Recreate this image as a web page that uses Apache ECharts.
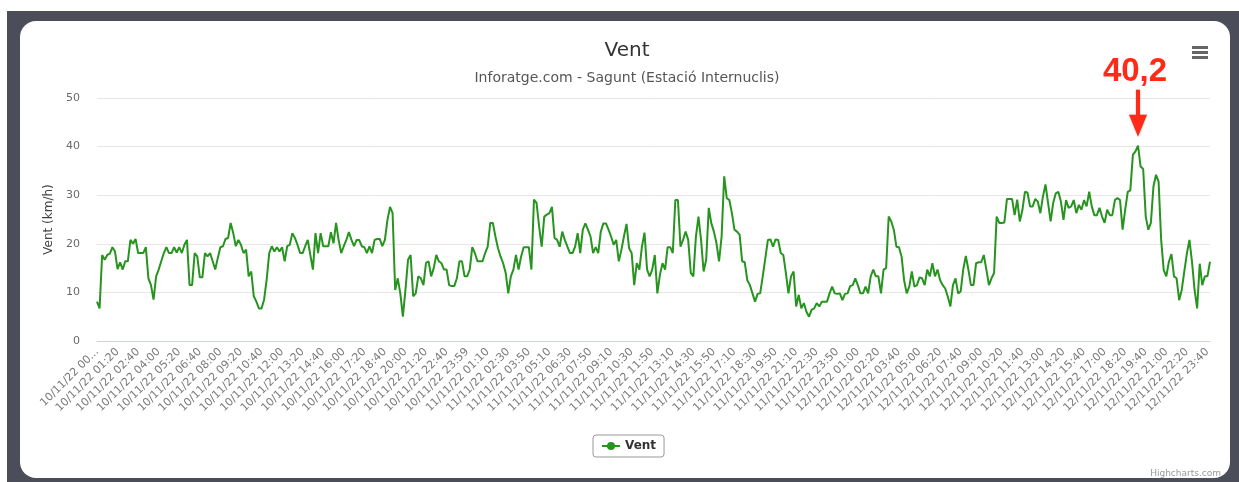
<!DOCTYPE html>
<html>
<head>
<meta charset="utf-8">
<title>Vent</title>
<script src="https://cdn.jsdelivr.net/npm/echarts@6/dist/echarts.min.js"></script>
<style>
  html, body { margin: 0; padding: 0; background: #fff; }
  #frame { position: absolute; left: 7px; top: 11px; width: 1232px; height: 471px; background: #4b4e58; }
  #card { position: absolute; left: 20px; top: 21px; width: 1210px; height: 457px; background: #fff; border-radius: 16px; }
  #chart { position: absolute; left: 0; top: 0; width: 1239px; height: 482px; }
</style>
</head>
<body>
<div id="frame"></div>
<div id="card"></div>
<div id="chart"></div>
<script>
// one reading every 10 minutes, plus a 23:59 reading closing the first two days
const days = ['10/11/22', '11/11/22', '12/11/22']
const dayHasClose = [true, true, false]

const vent10 = [
  8.1, 6.7, 17.7, 16.7, 17.7, 18, 19.3, 18.4, 14.8, 16.2, 14.7, 16.4, 16.4, 20.8, 20, 21, 18.1, 18.1, 18.1, 19.3,
  12.9, 11.5, 8.5, 13.3, 14.7, 16.4, 18.1, 19.3, 18.1, 18.1, 19.3, 18.2, 19.3, 18.1, 19.8, 20.8, 11.5, 11.5, 18.1, 17.4,
  13.1, 13.1, 18.1, 17.4, 18.1, 16.4, 14.7, 17.1, 19.3, 19.5, 21, 21.2, 24.3, 22.2, 19.5, 20.8, 19.8, 18.1, 18.8, 13.3,
  14.3, 9.2, 8.1, 6.7, 6.7, 8.5, 12.6, 18.1, 19.5, 18.4, 19.3, 18.4, 19.3, 16.4, 19.5, 19.8, 22.2, 21.2, 19.8, 18.1,
  18.1, 19.5, 20.8, 17.7, 14.7, 22.2, 18.1, 22.2, 19.5, 19.5, 19.5, 22.4, 20.1, 24.3, 20.8, 18.1, 19.5, 20.8, 22.4, 20.8,
  19.5, 20.8, 20.8, 19.5, 19.3, 18.1, 19.5, 18.1, 20.8, 21, 21, 19.5, 20.8, 24.9, 27.6, 26.3, 10.5, 12.9, 9.8, 5,
  10.5, 16.7, 17.7, 9.2, 9.8, 13.3, 12.9, 11.5, 16.1, 16.4, 13.3, 15, 17.7, 16.4, 16, 14.7, 14.7, 11.5, 11.3, 11.3,
  12.9, 16.4, 16.4, 13.3, 13.3
]
const vent11 = [
  14.7, 19.3, 18.1, 16.4, 16.4, 16.4, 18.1, 19.4, 24.3, 24.3, 21.5, 19.1, 17.4, 16, 14, 9.8, 13.3, 14.7, 17.7, 14.7,
  17.4, 19.3, 19.3, 19.3, 14.7, 29.1, 28.4, 23.6, 19.4, 25.6, 26, 26.3, 27.6, 21.2, 20.8, 19.4, 22.5, 20.8, 19.4, 18.1,
  18.1, 19.4, 22.2, 18.1, 22.9, 24.2, 22.9, 21.5, 18.1, 19.3, 18.1, 22.5, 24.2, 24.2, 22.9, 21.5, 19.8, 20.8, 16.4, 18.7,
  21.5, 24.1, 19.1, 18.1, 11.5, 16, 14.7, 19.4, 22.3, 14.7, 13.3, 14.7, 17.7, 9.8, 13.6, 16, 14.7, 19.3, 19.3, 18.1,
  29, 29, 19.4, 20.8, 22.5, 20.8, 14, 13.3, 21.5, 25.6, 20.8, 14.3, 16.7, 27.4, 24.2, 22.5, 20.1, 16.4, 21.5, 33.9,
  29.4, 29, 26.3, 22.9, 22.5, 21.9, 16.4, 16.2, 12.5, 11.5, 9.8, 8.1, 9.7, 9.8, 13.3, 17, 20.8, 20.9, 19.4, 20.9,
  20.8, 18.1, 17.7, 14, 9.8, 13.3, 14.3, 7.1, 9.5, 6.7, 7.8, 6, 5, 6.4, 6.7, 7.8, 7.1, 8.1, 8.1, 8.1,
  9.8, 11.2, 9.8, 9.7, 9.8
]
const vent12 = [
  8.4, 9.7, 9.8, 11.3, 11.5, 12.9, 11.5, 9.8, 9.8, 11.2, 9.8, 13.3, 14.7, 13.3, 13.3, 9.8, 14.7, 15, 25.6, 24.6,
  22.9, 19.4, 19.3, 17.4, 12.5, 9.8, 11.2, 14.3, 11.2, 11.5, 13.1, 12.9, 11.5, 14.7, 13.3, 16, 13.3, 14.7, 12.5, 11.5,
  10.8, 9.1, 7.1, 11.5, 12.9, 9.8, 10.2, 14.7, 17.5, 14.7, 11.5, 11.5, 16, 16.2, 16.2, 17.7, 14.7, 11.5, 12.9, 14,
  25.6, 24.3, 24.3, 24.4, 29.2, 29.2, 29.2, 25.9, 29.1, 24.6, 26.9, 30.7, 30.5, 27.7, 27.7, 29.2, 28.7, 26.3, 29.7, 32.2,
  28.4, 24.6, 28.4, 30.4, 30.7, 28.7, 24.9, 29, 27.4, 27.7, 29, 26.3, 28, 27, 29, 27.7, 30.7, 27.7, 25.9, 25.9,
  27.4, 25.6, 24.3, 27, 25.9, 25.9, 29, 29.4, 29, 22.9, 27, 30.7, 31, 38.3, 39, 40.2, 35.9, 35.4, 25.6, 22.9,
  24.3, 31.8, 34.2, 32.8, 20.8, 14.6, 13.3, 16.3, 17.9, 13.3, 12.9, 8.4, 10.5, 14.3, 18, 20.8, 16.3, 10.5, 6.7, 15.9,
  11.5, 13.3, 13.3, 16.3
]
const yTicks = [0, 10, 20, 30, 40, 50]

function pad(n) {
  return (n < 10 ? '0' : '') + n
}

const categories = []
days.forEach((d, k) => {
  for (let h = 0; h < 24; h++) {
    for (let m = 0; m < 60; m += 10) categories.push(d + ' ' + pad(h) + ':' + pad(m))
  }
  if (dayHasClose[k]) categories.push(d + ' 23:59')
})
const values = vent10.concat(vent11, vent12)

const green = '#26941e'
const chart = echarts.init(document.getElementById('chart'))

chart.setOption({
  animation: false,
  textStyle: { fontFamily: 'DejaVu Sans' },
  title: {
    text: 'Vent',
    subtext: 'Inforatge.com - Sagunt (Estació Internuclis)',
    left: 622,
    top: 36,
    textAlign: 'center',
    itemGap: 10,
    textStyle: { fontSize: 20, fontWeight: 'normal', color: '#333333' },
    subtextStyle: { fontSize: 14, color: '#555555' }
  },
  legend: {
    data: ['Vent'],
    left: 593,
    top: 435,
    padding: [5, 8, 5, 8],
    borderColor: '#999999',
    borderWidth: 1,
    borderRadius: 3,
    itemWidth: 18,
    itemHeight: 10,
    itemGap: 4,
    textStyle: { fontSize: 12, fontWeight: 'bold', color: '#333333' }
  },
  grid: {
    left: 97,
    right: 29,
    top: 98,
    bottom: 141,
    containLabel: false,
    outerBoundsMode: 'none'
  },
  xAxis: {
    type: 'category',
    data: categories,
    boundaryGap: false,
    axisLine: { lineStyle: { color: '#ccd6eb' } },
    axisTick: { show: false },
    axisLabel: {
      interval: 7,
      rotate: 45,
      margin: 9,
      fontSize: 11,
      color: '#7a7a7a',
      formatter: (v, i) => (i === 0 ? v.slice(0, 11) + '...' : v)
    },
    splitLine: { show: false }
  },
  yAxis: {
    type: 'value',
    min: yTicks[0],
    max: yTicks[yTicks.length - 1],
    interval: yTicks[1] - yTicks[0],
    name: 'Vent (km/h)',
    nameLocation: 'middle',
    nameGap: 38,
    nameTextStyle: { fontSize: 12, color: '#444444' },
    axisLine: { show: false },
    axisTick: { show: false },
    axisLabel: { fontSize: 11, color: '#6a6a6a', margin: 17 },
    splitLine: { lineStyle: { color: '#e6e6e6' } }
  },
  series: [{
    name: 'Vent',
    type: 'line',
    data: values,
    showSymbol: false,
    symbol: 'circle',
    symbolSize: 8,
    lineStyle: { width: 2, color: green },
    itemStyle: { color: green }
  }]
})

// annotation on the highest reading, placed from the axis scales
const maxVal = Math.max.apply(null, values)
const maxIdx = values.indexOf(maxVal)
const p = chart.convertToPixel({ seriesIndex: 0 }, [maxIdx, maxVal])
const px = p[0]
const py = p[1]

chart.setOption({
  graphic: [
    {
      type: 'text',
      x: px - 3,
      y: py - 74,
      style: {
        text: String(maxVal).replace('.', ','),
        fill: '#ff2a17',
        font: 'bold 33px "Liberation Sans"',
        align: 'center',
        verticalAlign: 'middle',
        stroke: '#ffffff',
        lineWidth: 2,
        shadowColor: 'rgba(0,0,0,0.35)',
        shadowBlur: 3,
        shadowOffsetY: 1
      }
    },
    {
      type: 'polygon',
      shape: {
        points: [
          [px - 2, py - 56], [px + 2, py - 56], [px + 2, py - 31], [px + 9, py - 31],
          [px, py - 9], [px - 9, py - 31], [px - 2, py - 31]
        ]
      },
      style: { fill: '#ff2a17', shadowColor: 'rgba(0,0,0,0.3)', shadowBlur: 2 }
    },
    {
      type: 'group',
      left: 1192,
      top: 46,
      children: [0, 5, 10].map(dy => ({
        type: 'rect',
        shape: { x: 0, y: dy, width: 16, height: 3 },
        style: { fill: '#666666' }
      }))
    },
    {
      type: 'text',
      right: 18,
      top: 469,
      style: { text: 'Highcharts.com', fill: '#999999', font: '9px "DejaVu Sans"' }
    }
  ]
})
</script>
</body>
</html>
